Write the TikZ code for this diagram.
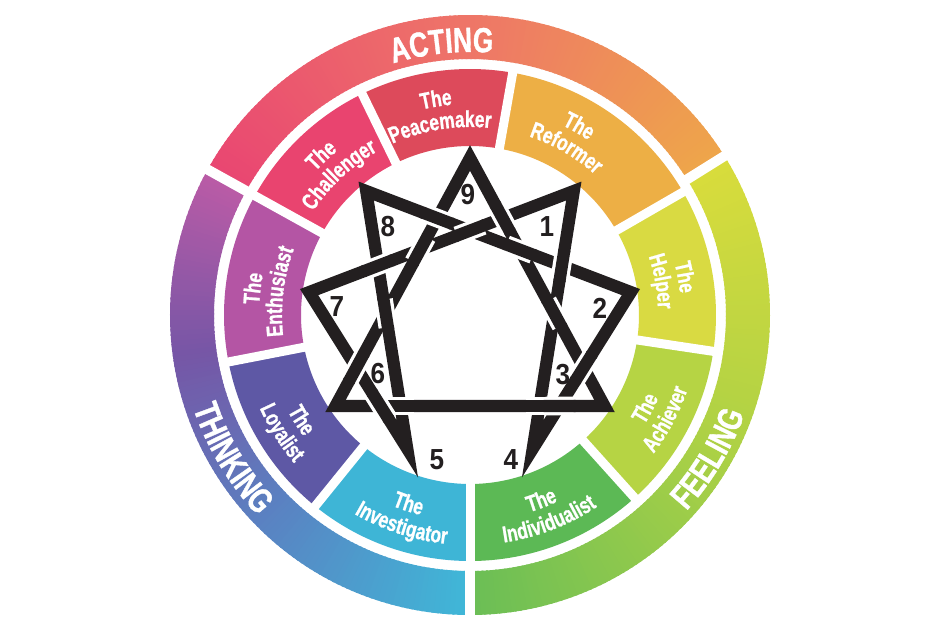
\documentclass[tikz,border=0pt]{standalone}
\usepackage{fontspec}
\newfontfamily\cf{Liberation Sans}[FakeStretch=0.75,FakeBold=1]
\newfontfamily\cfd{Liberation Sans}[FakeStretch=0.9]
\usetikzlibrary{calc,decorations.text}
\definecolor{starblack}{HTML}{231F20}
\definecolor{cPeace}{HTML}{DD4A5B}
\definecolor{cReform}{HTML}{EDAF45}
\definecolor{cHelp}{HTML}{D9DA42}
\definecolor{cAchieve}{HTML}{B6D444}
\definecolor{cIndiv}{HTML}{5CB955}
\definecolor{cInvest}{HTML}{3EB5D6}
\definecolor{cLoyal}{HTML}{5E58A5}
\definecolor{cEnthu}{HTML}{B455A4}
\definecolor{cChall}{HTML}{E9446F}
\definecolor{gAa}{HTML}{E94672}
\definecolor{gAb}{HTML}{EE7568}
\definecolor{gAc}{HTML}{EEA64A}
\definecolor{gFa}{HTML}{D9DC3C}
\definecolor{gFb}{HTML}{ADD145}
\definecolor{gFc}{HTML}{6ABE56}
\definecolor{gTa}{HTML}{3FB8D8}
\definecolor{gTb}{HTML}{5A82C2}
\definecolor{gTc}{HTML}{7656A6}
\definecolor{gTd}{HTML}{BC5BA6}

% gradient sector of the outer ring, phi (clockwise from top) from #1 to #2, colour #3 -> #4
\newcommand\gradarc[4]{%
  \pgfmathtruncatemacro\nsteps{abs(#2-(#1))}
  \foreach \i in {1,...,\nsteps}{
    \pgfmathsetmacro\aa{90-(#1)-(#2-(#1))*(\i-1)/\nsteps}
    \pgfmathsetmacro\ab{90-(#1)-(#2-(#1))*\i/\nsteps-0.4}
    \pgfmathsetmacro\pc{100*(\i-0.5)/\nsteps}
    \fill[#4!\pc!#3] (\aa:256) arc[start angle=\aa, end angle=\ab, radius=256]
      -- (\ab:300) arc[start angle=\ab, end angle=\aa, radius=300] -- cycle;
  }
}
% inner segment
\newcommand\segm[3]{%
  \fill[#3] ({90-(#1)}:169) arc[start angle={90-(#1)}, end angle={90-(#2)}, radius=169]
    -- ({90-(#2)}:246) arc[start angle={90-(#2)}, end angle={90-(#1)}, radius=246] -- cycle;}
% curved labels: #1 phi, #2 baseline radius, #3 size, #4 text
\newcommand\toplab[4]{%
  \path[decorate,decoration={text along path,text align=center,text color=white,
    text={|\cf\bfseries\fontsize{#3}{#3}\selectfont|#4}}]
    ({90-(#1)+45}:#2) arc[start angle={90-(#1)+45}, end angle={90-(#1)-45}, radius=#2];}
\newcommand\botlab[4]{%
  \path[decorate,decoration={text along path,text align=center,text color=white,
    text={|\cf\bfseries\fontsize{#3}{#3}\selectfont|#4}}]
    ({90-(#1)-45}:#2) arc[start angle={90-(#1)-45}, end angle={90-(#1)+45}, radius=#2];}
% weave: redraw over-line locally
\newcommand\crossover[3]{%
  \draw[casing] ($(#1)!14pt!(#2)$) -- ($(#1)!14pt!(#3)$);
  \draw[starline] ($(#1)!16pt!(#2)$) -- ($(#1)!16pt!(#3)$);}

\tikzset{
  starline/.style={line width=12.2pt, draw=starblack, line join=miter, miter limit=12},
  casing/.style={line width=18.7pt, draw=white},
  numlab/.style={font=\cfd\bfseries\fontsize{29}{29}\selectfont, text=starblack, inner sep=0pt},
  gapline/.style={draw=white, line width=9pt},
  biggap/.style={draw=white, line width=10pt},
}

\begin{document}
\begin{tikzpicture}[x=1pt,y=1pt]
\fill[white] (-470,-315) rectangle (471,315);
\useasboundingbox (-470,-315) rectangle (471,315);

% outer ring
\gradarc{-61}{-1}{gAa}{gAb}
\gradarc{-1}{58}{gAb}{gAc}
\gradarc{58}{118}{gFa}{gFb}
\gradarc{118}{180}{gFb}{gFc}
\gradarc{180}{225}{gTa}{gTb}
\gradarc{225}{262}{gTb}{gTc}
\gradarc{262}{299}{gTc}{gTd}
\foreach \p in {-61,58,180} \draw[biggap] ({90-\p}:250) -- ({90-\p}:310);

% inner segments
\segm{-26}{10}{cPeace}
\segm{10}{60}{cReform}
\segm{60}{98.5}{cHelp}
\segm{98.5}{138}{cAchieve}
\segm{138}{180}{cIndiv}
\segm{180}{219}{cInvest}
\segm{219}{259}{cLoyal}
\segm{259}{299}{cEnthu}
\segm{299}{334}{cChall}
\foreach \p in {-26,10,60,98.5,138,180,219,259,299} \draw[gapline] ({90-\p}:165) -- ({90-\p}:252);

% labels
\toplab{-9}{211}{23}{The}  \toplab{-9}{188}{23}{Peacemaker}
\toplab{30}{211}{23}{The}  \toplab{30}{188}{23}{Reformer}
\toplab{80}{211}{23}{The}  \toplab{80}{188}{23}{Helper}
\botlab{118}{206}{23}{The} \botlab{118}{230}{23}{Achiever}
\botlab{159}{206}{23}{The} \botlab{159}{230}{23}{Individualist}
\botlab{198}{206}{23}{The} \botlab{198}{230}{23}{Investigator}
\botlab{238}{206}{23}{The} \botlab{238}{230}{23}{Loyalist}
\toplab{277}{211}{23}{The} \toplab{277}{188}{23}{Enthusiast}
\toplab{317}{211}{23}{The} \toplab{317}{188}{23}{Challenger}
\toplab{-6}{263}{35}{ACTING}
\botlab{121}{292}{35}{FEELING}
\botlab{239}{292}{35}{THINKING}

% star
\coordinate (v9) at (0,157);
\coordinate (v3) at (134.5,-91);
\coordinate (v6) at (-134.5,-91);
\coordinate (v1) at (103.8,124.0);
\coordinate (v8) at (-103.8,124.0);
\coordinate (v2) at (160.9,22.9);
\coordinate (v7) at (-160.9,22.9);
\coordinate (v4) at (62.7,-133.85);
\coordinate (v5) at (-62.7,-133.85);
\draw[starline] (v9) -- (v3) -- (v6) -- cycle;
\draw[starline] (v1) -- (v4) -- (v2) -- (v8) -- (v5) -- (v7) -- cycle;

\coordinate (xA) at (intersection of v7--v1 and v8--v2);
\coordinate (xB) at (intersection of v8--v2 and v9--v6);
\coordinate (xC) at (intersection of v8--v2 and v9--v3);
\coordinate (xD) at (intersection of v8--v2 and v1--v4);
\coordinate (xE) at (intersection of v7--v1 and v9--v6);
\coordinate (xF) at (intersection of v7--v1 and v9--v3);
\coordinate (xG) at (intersection of v7--v1 and v8--v5);
\coordinate (xH) at (intersection of v8--v5 and v9--v6);
\coordinate (xI) at (intersection of v8--v5 and v6--v3);
\coordinate (xJ) at (intersection of v7--v5 and v9--v6);
\coordinate (xK) at (intersection of v7--v5 and v6--v3);
\coordinate (xL) at (intersection of v1--v4 and v9--v3);
\coordinate (xM) at (intersection of v1--v4 and v6--v3);
\coordinate (xN) at (intersection of v2--v4 and v9--v3);
\coordinate (xO) at (intersection of v2--v4 and v6--v3);

\crossover{xA}{v7}{v1}
\crossover{xB}{v8}{v2}
\crossover{xC}{v8}{v2}
\crossover{xD}{v1}{v4}
\crossover{xE}{v9}{v6}
\crossover{xF}{v9}{v3}
\crossover{xG}{v7}{v1}
\crossover{xH}{v8}{v5}
\crossover{xI}{v6}{v3}
\crossover{xM}{v6}{v3}
\crossover{xO}{v6}{v3}
\crossover{xJ}{v9}{v6}
\crossover{xK}{v7}{v5}
\crossover{xL}{v9}{v3}
\crossover{xN}{v2}{v4}

% numbers
\node[numlab] (n9) at (-2,120) {9};
\node[numlab] (n1) at (77,88) {1};
\node[numlab] (n2) at (130,7) {2};
\node[numlab] (n3) at (93,-60) {3};
\node[numlab] (n4) at (41,-145) {4};
\node[numlab] (n5) at (-33,-145) {5};
\node[numlab] (n6) at (-92,-59) {6};
\node[numlab] (n7) at (-133,8) {7};
\node[numlab] (n8) at (-82,88) {8};
\end{tikzpicture}
\end{document}
